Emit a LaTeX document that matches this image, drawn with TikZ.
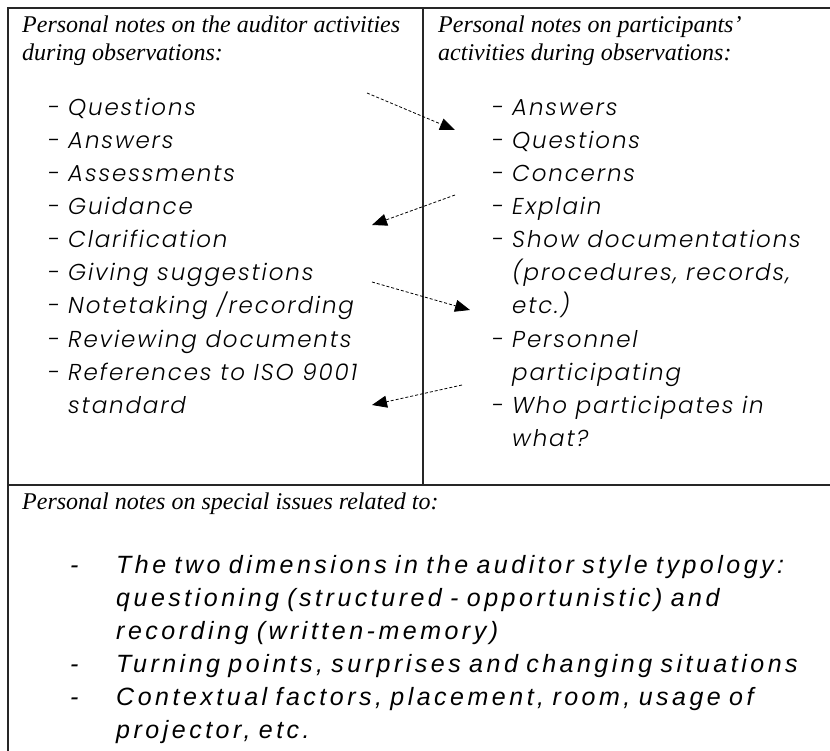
\documentclass[tikz,border=0pt]{standalone}
\usepackage{fontspec}
\setmainfont{Liberation Serif}
\newfontfamily\listfont{Poppins Light}[LetterSpace=8]
\newfontfamily\notefont{Liberation Sans}[LetterSpace=14,WordSpace=0.8]
\usetikzlibrary{arrows.meta}

\begin{document}
\begin{tikzpicture}[x=1pt,y=-1pt,
  rule/.style={line width=1.6pt, draw=black!85},
  head/.style={anchor=base west, inner sep=0pt, font=\fontsize{24}{28}\selectfont\itshape},
  item/.style={anchor=base west, inner sep=0pt, font=\fontsize{23}{26}\selectfont\listfont\itshape},
  note/.style={anchor=base west, inner sep=0pt, font=\fontsize{25}{28}\selectfont\notefont\itshape},
  link/.style={dash pattern=on 3pt off 2pt, line width=0.8pt,
    -{Triangle[length=15pt,width=12pt]}}]

\useasboundingbox (0,0) rectangle (830,751);

% table rules
\draw[rule] (8,751) -- (8,8) -- (830,8);
\draw[rule] (423,8) -- (423,485);
\draw[rule] (8,485) -- (830,485);

% column headings
\node[head] (hl1) at (22,33) {Personal notes on the auditor activities};
\node[head] (hl2) at (22,61) {during observations:};
\node[head] (hr1) at (438,33) {Personal notes on participants’};
\node[head] (hr2) at (438,61) {activities during observations:};

% auditor activities
\foreach \t [count=\i] in {Questions, Answers, Assessments, Guidance, Clarification,
    Giving suggestions, Notetaking /recording, Reviewing documents, References to ISO 9001}
  \node[item] (l\i) at (68,83+33*\i) {\t};
\foreach \i in {1,...,9}
  \node[item] (ld\i) at (48,83+33*\i) {-};
\node[item] (l10) at (68,413) {standard};

% participants' activities
\foreach \t/\y/\d [count=\i] in {Answers/116/-, Questions/149/-, Concerns/182/-, Explain/215/-,
    Show documentations/248/-, {(procedures, records,}/281/, etc.)/314/,
    Personnel/347/-, participating/380/, Who participates in/413/-, what?/446/}
  {
  \node[item] (r\i) at (512,\y) {\t};
  \node[item] (rd\i) at (492,\y) {\d};
  }

% special issues
\node[head] (hb) at (22,509) {Personal notes on special issues related to:};
\node[note] (b1) at (116,573) {The two dimensions in the auditor style typology:};
\node[note] (b2) at (116,606) {questioning (structured - opportunistic) and};
\node[note] (b3) at (116,639) {recording (written-memory)};
\node[note] (b4) at (116,672) {Turning points, surprises and changing situations};
\node[note] (b5) at (116,705) {Contextual factors, placement, room, usage of};
\node[note] (b6) at (116,738) {projector, etc.};
\node[note] (bd1) at (70,573) {-};
\node[note] (bd4) at (70,672) {-};
\node[note] (bd5) at (70,705) {-};

% cross links between the two columns
\coordinate (s1) at (367,93);  \coordinate (e1) at (455,130);
\coordinate (s2) at (455,195); \coordinate (e2) at (372,225);
\coordinate (s3) at (372,282); \coordinate (e3) at (470,310);
\coordinate (s4) at (462,385); \coordinate (e4) at (372,405);
\foreach \k in {1,...,4}
  \draw[link] (s\k) -- (e\k);
\end{tikzpicture}
\end{document}
